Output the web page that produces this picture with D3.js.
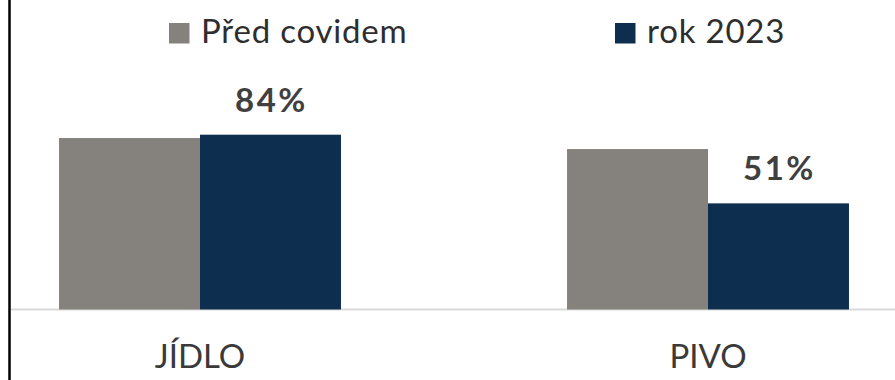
<!DOCTYPE html>
<html>
<head>
<meta charset="utf-8">
<script src="https://cdn.jsdelivr.net/npm/d3@7"></script>
<style>
  html, body { margin: 0; padding: 0; background: #fff; }
  svg { display: block; }
  text { font-family: Lato, "Open Sans", sans-serif; }
</style>
</head>
<body>
<svg id="chart" width="895" height="380"></svg>
<script>
const categories = ["JÍDLO", "PIVO"];
const seriesNames = ["Před covidem", "rok 2023"];
const predCovidem = [82.4, 77.1];
const rok2023 = [84, 51];
const labelSeries = ["rok 2023"];
const colors = ["#85827e", "#0d2e4f"];

const W = 895, H = 380;
const svg = d3.select("#chart");

const baseY = 309.5;
const y = d3.scaleLinear().domain([0, 100]).range([baseY, baseY - 208.1]);
const x0 = d3.scaleBand().domain(categories).range([-54, 962]).paddingInner(0.445).paddingOuter(0.2225);
const x1 = d3.scaleBand().domain(seriesNames).range([0, x0.bandwidth()]);

const data = categories.map((c, i) => ({
  cat: c,
  vals: [
    { s: seriesNames[0], v: predCovidem[i] },
    { s: seriesNames[1], v: rok2023[i] }
  ]
}));

// baseline
svg.append("line")
  .attr("x1", 11).attr("x2", W)
  .attr("y1", baseY).attr("y2", baseY)
  .attr("stroke", "#d9d9d9").attr("stroke-width", 2);

const g = svg.selectAll("g.cat").data(data).enter().append("g")
  .attr("class", "cat")
  .attr("transform", d => `translate(${x0(d.cat)},0)`);

g.selectAll("rect").data(d => d.vals).enter().append("rect")
  .attr("x", d => x1(d.s))
  .attr("width", x1.bandwidth())
  .attr("y", d => y(d.v))
  .attr("height", d => y(0) - y(d.v))
  .attr("fill", (d, i) => colors[i]);

g.selectAll("text.val").data(d => d.vals.filter(v => labelSeries.includes(v.s))).enter().append("text")
  .attr("class", "val")
  .attr("x", d => x1(d.s) + x1.bandwidth() / 2 + 1)
  .attr("y", d => y(d.v) - 23)
  .attr("text-anchor", "middle")
  .attr("font-size", 33)
  .attr("font-weight", "bold")
  .attr("letter-spacing", 2.5)
  .attr("fill", "#404040")
  .text(d => Math.round(d.v) + "%");

// category axis labels
const xAxis = d3.axisBottom(x0).tickSize(0).tickPadding(0);
const ax = svg.append("g").attr("transform", `translate(0,${baseY})`).call(xAxis);
ax.select(".domain").remove();
ax.selectAll("text")
  .attr("y", 58.5).attr("dy", 0)
  .attr("font-size", 33)
  .attr("font-family", "Lato, sans-serif")
  .attr("fill", "#3a3a3a");

// legend
const legendX = [169, 615];
const lg = svg.selectAll("g.leg").data(seriesNames).enter().append("g")
  .attr("class", "leg")
  .attr("transform", (d, i) => `translate(${legendX[i]},0)`);
lg.append("rect").attr("x", 0).attr("y", 23).attr("width", 20.5).attr("height", 20.5)
  .attr("fill", (d, i) => colors[i]);
lg.append("text").attr("x", 32).attr("y", 42.5)
  .attr("font-size", 33)
  .attr("letter-spacing", 0.8)
  .attr("fill", "#2e2e2e")
  .text(d => d);

// left border
svg.append("line")
  .attr("x1", 9.5).attr("x2", 9.5).attr("y1", 0).attr("y2", H)
  .attr("stroke", "#000").attr("stroke-width", 2.5);
</script>
</body>
</html>
